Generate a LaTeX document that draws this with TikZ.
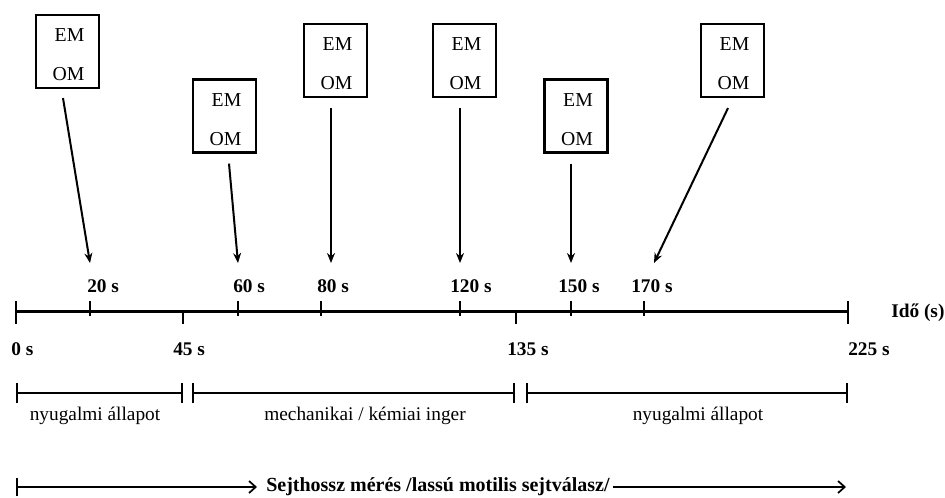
\documentclass[tikz,border=0pt]{standalone}
\usepackage{fontspec}
\setmainfont{Liberation Serif}
\usetikzlibrary{arrows.meta,calc}
\begin{document}
\begin{tikzpicture}[x=0.75pt,y=-0.75pt,
  box/.style={draw,line width=1.6pt,minimum width=47.25pt,minimum height=54.75pt,inner sep=0pt},
  boxtxt/.style={font=\fontsize{14.8}{16}\selectfont,anchor=base,inner sep=0pt},
  tlbl/.style={font=\fontsize{14.5}{16}\selectfont\bfseries,anchor=base west,inner sep=0pt},
  plbl/.style={font=\fontsize{14.5}{16}\selectfont,anchor=base,inner sep=0pt},
  ptr/.style={line width=1.5pt,-{Stealth[length=7.5pt,width=6pt]}},
  axisline/.style={line width=2.25pt},
  tickline/.style={line width=1.5pt},
  phase/.style={line width=1.3pt,{Bar[width=15pt,line width=1.8pt]}-{Bar[width=15pt,line width=1.8pt]}},
  meas/.style={line width=1.3pt,-{Straight Barb[length=5pt,width=9pt]}}
]
\useasboundingbox (0,0) rectangle (945,497);

% boxes
\node[box] (b1) at (67.5,51.5) {};
\node[box] (b2) at (224.5,116) {};
\node[box] (b3) at (335.5,60.5) {};
\node[box] (b4) at (464.5,60.5) {};
\node[box] (b5) at (576,116) {};
\node[box] (b6) at (732.5,60.5) {};
\foreach \b in {b1,b2,b3,b4,b5,b6}{
  \node[boxtxt] at ($(\b.north)+(2,28)$) {EM};
  \node[boxtxt] at ($(\b.north)+(1,67)$) {OM};
}

% arrow targets
\coordinate (e20) at (90,263);
\coordinate (e60) at (238,263);
\coordinate (e80) at (331,263);
\coordinate (e120) at (460,263);
\coordinate (e150) at (571,263);
\coordinate (e170) at (654,263);

\draw[ptr] ($(b1.south)+(-4.5,9)$) -- (e20);
\draw[ptr] ($(b2.south)+(4.5,10)$) -- (e60);
\draw[ptr] ($(b3.south)+(-4.5,10)$) -- (e80);
\draw[ptr] ($(b4.south)+(-4.5,10)$) -- (e120);
\draw[ptr] ($(b5.south)+(-5,10)$) -- (e150);
\draw[ptr] ($(b6.south)+(-4.5,10)$) -- (e170);

% time axis
\coordinate (t0) at (16,311);
\coordinate (t225) at (848,311);
\draw[axisline] (t0) -- (t225);
\draw[tickline] (16,301) -- (16,324);
\draw[tickline] (848,301) -- (848,324);
\foreach \x in {90,238,321,460,571,644}{
  \draw[tickline] (\x,301) -- (\x,316);
}
\foreach \x in {183,516}{
  \draw[tickline] (\x,311) -- (\x,324);
}

% tick labels
\node[tlbl] (l20) at (87,292) {20 s};
\node[tlbl] (l60) at (233,292) {60 s};
\node[tlbl] (l80) at (317,292) {80 s};
\node[tlbl] (l120) at (450,292) {120 s};
\node[tlbl] (l150) at (558,292) {150 s};
\node[tlbl] (l170) at (631,292) {170 s};
\node[tlbl] (l0) at (11,355) {0 s};
\node[tlbl] (l45) at (173,355) {45 s};
\node[tlbl] (l135) at (507,355) {135 s};
\node[tlbl] (l225) at (848,355) {225 s};
\node[tlbl] (ido) at (891,317) {Idő (s)};

% phases
\coordinate (p1a) at (16,393);
\coordinate (p1b) at (183,393);
\coordinate (p2a) at (192,393);
\coordinate (p2b) at (515,393);
\coordinate (p3a) at (526,393);
\coordinate (p3b) at (848,393);
\draw[phase] (p1a) -- (p1b);
\draw[phase] (p2a) -- (p2b);
\draw[phase] (p3a) -- (p3b);
\node[plbl] (ph1) at (95,420) {nyugalmi állapot};
\node[plbl] (ph2) at (365,420) {mechanikai / kémiai inger};
\node[plbl] (ph3) at (698,420) {nyugalmi állapot};

% measurement
\coordinate (m0) at (16,487);
\coordinate (m1) at (846,487);
\node[font=\fontsize{15}{17}\selectfont\bfseries,inner sep=0pt,anchor=west] (ms) at (266,487) {Sejthossz mérés /lassú motilis sejtválasz/};
\draw[meas,{Bar[width=14pt,line width=1.8pt]}-{Straight Barb[length=5pt,width=9pt]}] (m0) -- ($(ms.west)+(-9,0)$);
\draw[meas] (ms.east) ++(3,0) -- (m1);
\end{tikzpicture}
\end{document}
